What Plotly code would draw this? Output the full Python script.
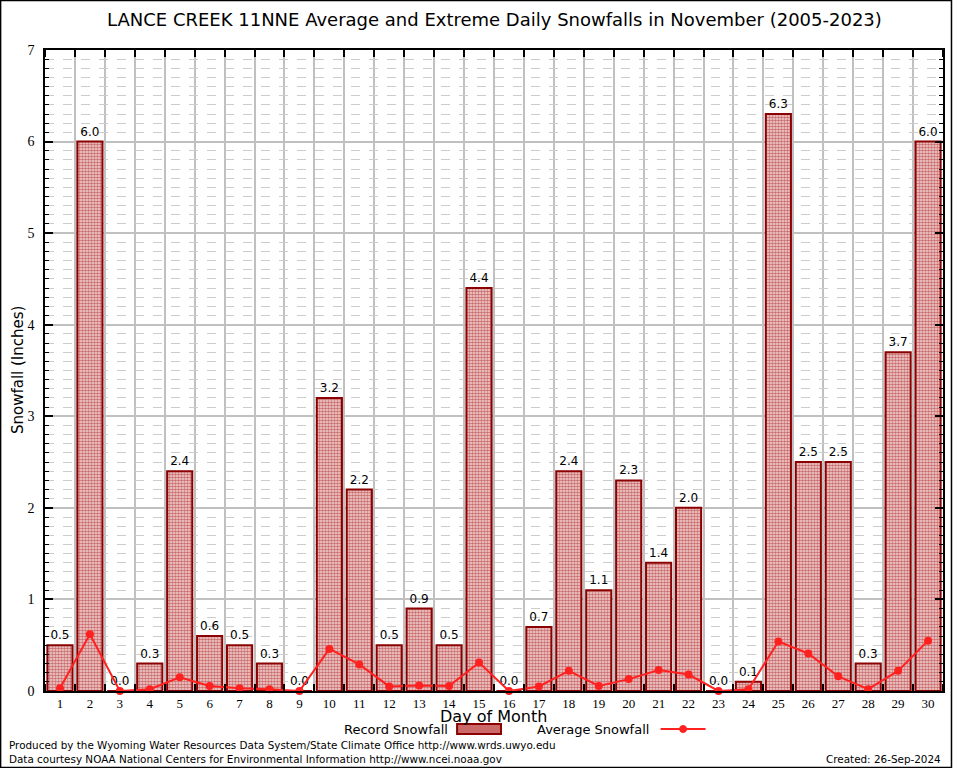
import plotly.graph_objects as go

days = list(range(1, 31))
record_snow = [0.5, 6.0, 0.0, 0.3, 2.4, 0.6, 0.5, 0.3, 0.0, 3.2,
               2.2, 0.5, 0.9, 0.5, 4.4, 0.0, 0.7, 2.4, 1.1, 2.3,
               1.4, 2.0, 0.0, 0.1, 6.3, 2.5, 2.5, 0.3, 3.7, 6.0]
avg_snow = [0.03, 0.62, 0.0, 0.02, 0.15, 0.055, 0.03, 0.02, 0.0, 0.46,
            0.29, 0.05, 0.06, 0.055, 0.31, 0.0, 0.05, 0.22, 0.055, 0.13,
            0.23, 0.18, 0.0, 0.02, 0.54, 0.41, 0.16, 0.02, 0.22, 0.55]
tick_labels = [str(d) for d in days]

W, H = 954, 768
L, R, T, B = 45, 9, 50, 77
PW, PH = W - L - R, H - T - B


def px(x):
    return (x - L) / PW


def py(y):
    return (H - B - y) / PH


SANS = "DejaVu Sans"
SERIF = "Liberation Serif"
DARKRED = "#8B0000"
RED = "#FF2020"

fig = go.Figure()
fig.add_trace(go.Bar(
    x=days, y=record_snow, width=0.84,
    marker=dict(color="#e8a8a8",
                line=dict(color=DARKRED, width=2),
                pattern=dict(shape=".", fgcolor="#a00000", bgcolor="#f4dada",
                             size=3, solidity=0.6)),
    texttemplate="%{y:.1f}", textposition="outside",
    textfont=dict(family=SANS, size=12, color="black"),
    cliponaxis=False, name="Record Snowfall", showlegend=False,
))
fig.add_trace(go.Scatter(
    x=days, y=avg_snow, mode="lines+markers",
    line=dict(color=RED, width=2),
    marker=dict(color=RED, size=8),
    cliponaxis=False, name="Average Snowfall", showlegend=False,
))

ann = []
ann.append(dict(text="LANCE CREEK 11NNE Average and Extreme Daily Snowfalls in November (2005-2023)",
                x=0.5, y=py(20), xref="paper", yref="paper", showarrow=False,
                xanchor="center", yanchor="middle", font=dict(family=SANS, size=18, color="black")))
ann.append(dict(text="Snowfall (Inches)", textangle=-90,
                x=px(18), y=py(370), xref="paper", yref="paper", showarrow=False,
                xanchor="center", yanchor="middle", font=dict(family=SANS, size=15, color="black")))
ann.append(dict(text="Day of Month",
                x=px(494), y=py(716), xref="paper", yref="paper", showarrow=False,
                xanchor="center", yanchor="middle", font=dict(family=SANS, size=16, color="black")))
ann.append(dict(text="Record Snowfall",
                x=px(451), y=py(729), xref="paper", yref="paper", showarrow=False,
                xanchor="right", yanchor="middle", font=dict(family=SANS, size=13, color="black")))
ann.append(dict(text="Average Snowfall",
                x=px(536), y=py(729), xref="paper", yref="paper", showarrow=False,
                xanchor="left", yanchor="middle", font=dict(family=SANS, size=13, color="black")))
ann.append(dict(text="Produced by the Wyoming Water Resources Data System/State Climate Office http://www.wrds.uwyo.edu",
                x=px(7), y=py(745), xref="paper", yref="paper", showarrow=False,
                xanchor="left", yanchor="middle", font=dict(family=SANS, size=10.4, color="black")))
ann.append(dict(text="Data courtesy NOAA National Centers for Environmental Information http://www.ncei.noaa.gov",
                x=px(7), y=py(759), xref="paper", yref="paper", showarrow=False,
                xanchor="left", yanchor="middle", font=dict(family=SANS, size=10.4, color="black")))
ann.append(dict(text="Created: 26-Sep-2024",
                x=px(945), y=py(759), xref="paper", yref="paper", showarrow=False,
                xanchor="right", yanchor="middle", font=dict(family=SANS, size=10.4, color="black")))

shapes = [
    dict(type="rect", xref="paper", yref="paper",
         x0=px(0.5), x1=px(953.5), y0=py(767.5), y1=py(0.5),
         line=dict(color="black", width=1.5), fillcolor="rgba(0,0,0,0)", layer="above"),
    dict(type="rect", xref="paper", yref="paper",
         x0=px(458), x1=px(502), y0=py(734), y1=py(724),
         line=dict(color=DARKRED, width=2), fillcolor="#cc6a6a"),
    dict(type="line", xref="paper", yref="paper",
         x0=px(662), x1=px(707), y0=py(729), y1=py(729),
         line=dict(color=RED, width=2)),
    dict(type="circle", xref="paper", yref="paper",
         x0=px(681), x1=px(688), y0=py(732.5), y1=py(725.5),
         line=dict(color=RED, width=1), fillcolor=RED),
]

fig.update_layout(
    width=W, height=H,
    margin=dict(l=L, r=R, t=T, b=B, pad=0),
    paper_bgcolor="white", plot_bgcolor="white",
    showlegend=False,
    annotations=ann, shapes=shapes,
    xaxis=dict(range=[0.5, 30.5], tickmode="array", tickvals=days, ticktext=tick_labels,
               ticks="", showgrid=False, zeroline=False,
               showline=True, linecolor="black", linewidth=1.5, mirror="allticks",
               tickfont=dict(family=SERIF, size=13, color="black"),
               minor=dict(tick0=0.5, dtick=1, showgrid=True, gridcolor="#c0c0c0", gridwidth=2,
                          ticks="inside", ticklen=7, tickcolor="black", tickwidth=1.5)),
    yaxis=dict(range=[0, 7], tick0=0, dtick=1, ticks="inside", ticklen=8, tickwidth=1.5,
               tickcolor="black", showgrid=True, gridcolor="#c0c0c0", gridwidth=2,
               zeroline=False, showline=True, linecolor="black", linewidth=1.5, mirror="allticks",
               tickfont=dict(family=SERIF, size=14, color="black"), ticklabelstandoff=6,
               minor=dict(dtick=0.1, showgrid=True, gridcolor="#cccccc", gridwidth=1, griddash="dash",
                          ticks="inside", ticklen=4, tickcolor="black", tickwidth=1)),
)

fig.write_html("out.html", config={"displayModeBar": False},
               post_script="document.body.style.margin='0';document.body.style.overflow='hidden';")
